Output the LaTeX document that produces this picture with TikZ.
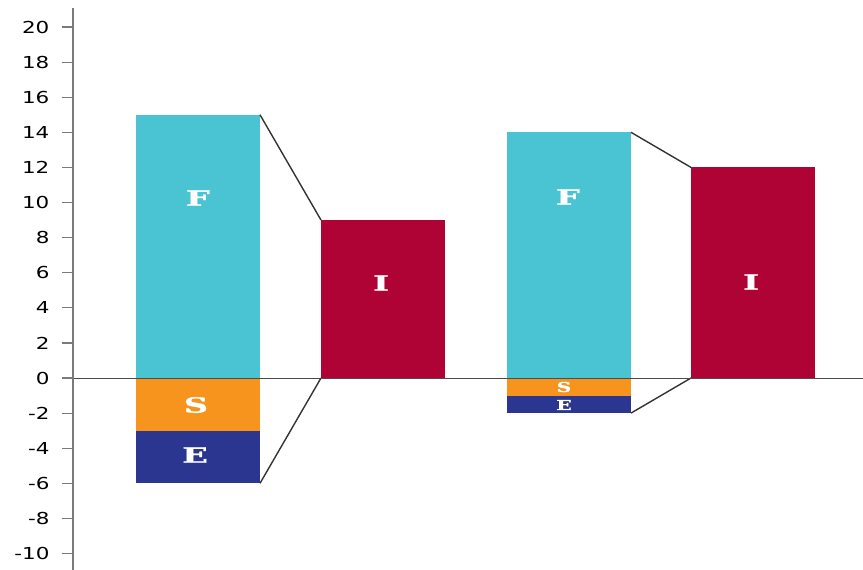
\documentclass[tikz,border=0pt]{standalone}
\usepackage{fontspec}
\newfontfamily\ticksfont{DejaVu Sans}
\newfontfamily\barfont[FakeBold=1.2]{DejaVu Serif}
\definecolor{cF}{HTML}{4AC3D2}
\definecolor{cS}{HTML}{F7941E}
\definecolor{cE}{HTML}{2A3690}
\definecolor{cI}{HTML}{B00335}
\definecolor{axisgray}{HTML}{7A7A7A}
\begin{document}
\begin{tikzpicture}[x=1pt,y=-1pt,
  bar/.style={rectangle,inner sep=0pt,outer sep=0pt,minimum width=124pt,anchor=north west},
  biglab/.style={text=white,inner sep=0pt,font=\barfont\bfseries\fontsize{21}{21}\selectfont},
  smalllab/.style={text=white,inner sep=0pt,font=\barfont\bfseries\fontsize{13.5}{13.5}\selectfont},
  ticklab/.style={anchor=east,inner sep=0pt,text=black,font=\ticksfont\fontsize{16.5}{16.5}\selectfont},
  link/.style={draw=black!80,line width=1.4pt}]
\useasboundingbox (0,0) rectangle (863,570);
% bars
\node[bar,fill=cF,minimum height=263.25pt] (F1) at (136,114.75) {};
\node[bar,fill=cS,minimum height=52.65pt]  (S1) at (136,378) {};
\node[bar,fill=cE,minimum height=52.65pt]  (E1) at (136,430.65) {};
\node[bar,fill=cI,minimum height=157.95pt] (I1) at (321,220.05) {};
\node[bar,fill=cF,minimum height=245.7pt]  (F2) at (507,132.3) {};
\node[bar,fill=cS,minimum height=17.55pt]  (S2) at (507,378) {};
\node[bar,fill=cE,minimum height=17.55pt]  (E2) at (507,395.55) {};
\node[bar,fill=cI,minimum height=210.6pt]  (I2) at (691,167.4) {};
% labels
\node[biglab] (lF1) at (198,198) {\scalebox{1.6}[1]{F}};
\node[biglab] (lS1) at (196,405) {\scalebox{1.6}[1]{S}};
\node[biglab] (lE1) at (195,455) {\scalebox{1.6}[1]{E}};
\node[biglab] (lI1) at (381,283) {\scalebox{1.6}[1]{I}};
\node[biglab] (lF2) at (568,197) {\scalebox{1.6}[1]{F}};
\node[smalllab] (lS2) at (564,387) {\scalebox{1.5}[1]{S}};
\node[smalllab] (lE2) at (564,405) {\scalebox{1.5}[1]{E}};
\node[biglab] (lI2) at (751,282) {\scalebox{1.6}[1]{I}};
% connectors
\draw[link] (F1.north east) -- (I1.north west);
\draw[link] (E1.south east) -- (I1.south west);
\draw[link] (F2.north east) -- (I2.north west);
\draw[link] (E2.south east) -- (I2.south west);
% zero line
\coordinate (zl) at (73,378);
\coordinate (zr) at (863,378);
\draw[black!70,line width=1pt] (zl) -- (zr);
% axis
\coordinate (atop) at (73,8);
\coordinate (abot) at (73,570);
\draw[axisgray,line width=1.6pt] (atop) -- (abot);
\foreach \v in {-10,-8,...,20}{
  \coordinate (t\v) at (73,378-17.55*\v);
  \draw[axisgray,line width=1.2pt] (t\v) -- ++(-11,0) node[ticklab,xshift=-12pt] {\scalebox{1.3}[1]{\v}};
}
\end{tikzpicture}
\end{document}
